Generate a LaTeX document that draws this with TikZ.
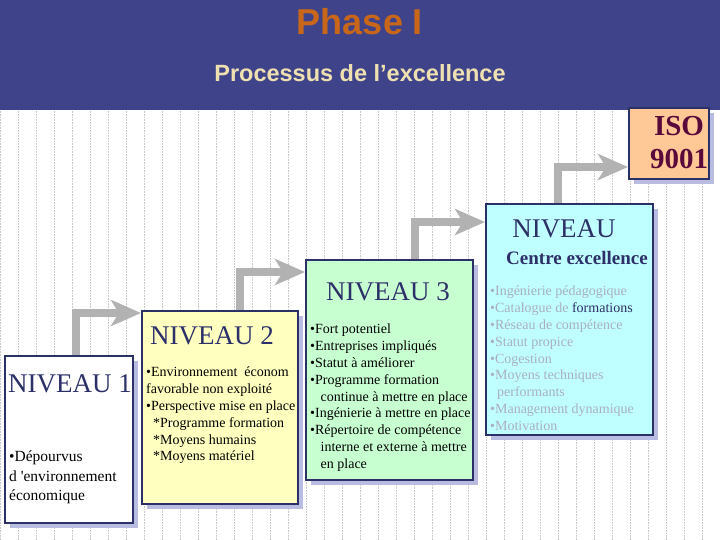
\documentclass[tikz,border=0pt]{standalone}
\usepackage{fontspec}
\setmainfont{Liberation Serif}
\newfontfamily\hsans{Liberation Sans}
\newfontfamily\rawserif{Liberation Serif}
\usetikzlibrary{arrows.meta}
\definecolor{hdr}{HTML}{3F448A}
\definecolor{ttl}{HTML}{C8661A}
\definecolor{sub}{HTML}{EEE0B0}
\definecolor{navy}{HTML}{2B3068}
\definecolor{shad}{HTML}{B8BCE0}
\definecolor{fy}{HTML}{FFFFC0}
\definecolor{fg}{HTML}{C8FFD0}
\definecolor{fc}{HTML}{C0FFFF}
\definecolor{fo}{HTML}{FFC896}
\definecolor{iso}{HTML}{5A0A3A}
\definecolor{pale}{HTML}{A8B0C0}
\tikzset{
 lvl/.style={draw=navy, line width=1.6pt, anchor=north west, inner sep=0pt},
 shd/.style={fill=shad, anchor=north west, inner sep=0pt},
 stair/.style={draw=black!30, line width=8pt, -{Stealth[length=30pt,width=26pt,inset=8pt]}},
 txt/.style={anchor=north west, align=left, text=black, font=\fontsize{14}{16.8}\selectfont, inner sep=0pt},
 big/.style={text=navy, font=\fontsize{27}{30}\selectfont, inner sep=0pt}
}
\begin{document}
\begin{tikzpicture}[x=1pt,y=-1pt]
\useasboundingbox (0,0) rectangle (720,540);
\fill[white] (0,0) rectangle (720,540);
\draw[black!22, densely dotted, line width=0.6pt, step=18] (0,110) grid (720,540);
\fill[hdr] (0,0) rectangle (720,110);
\node[text=ttl, font=\hsans\bfseries\fontsize{36}{38}\selectfont] (title) at (360,22) {Phase I};
\node[text=sub, font=\hsans\bfseries\fontsize{23.5}{26}\selectfont] (subt) at (360,73) {Processus de l’excellence};
% shadows
\node[shd, minimum width=128, minimum height=167] (s1) at (10,361) {};
\node[shd, minimum width=156, minimum height=193] (s2) at (147,316) {};
\node[shd, minimum width=167, minimum height=220] (s3) at (311,265) {};
\node[shd, minimum width=167, minimum height=231] (s4) at (491,209) {};
\node[shd, minimum width=80, minimum height=71] (s5) at (634,113) {};
% boxes
\node[lvl, fill=white, minimum width=128, minimum height=167] (n1) at (4,355) {};
\node[lvl, fill=fy, minimum width=156, minimum height=193] (n2) at (141,310) {};
\node[lvl, fill=fg, minimum width=167, minimum height=220] (n3) at (305,259) {};
\node[lvl, fill=fc, minimum width=167, minimum height=231] (n4) at (485,203) {};
\node[lvl, fill=fo, minimum width=80, minimum height=71] (n5) at (628,107) {};
% arrows
\coordinate (c1) at (76,313); \coordinate (c2) at (240,272);
\coordinate (c3) at (415,222); \coordinate (c4) at (558,167);
\draw[stair] (n1.north west -| c1) -- (c1) -- (c1 -| n2.west);
\draw[stair] (n2.north west -| c2) -- (c2) -- (c2 -| n3.west);
\draw[stair] (n3.north west -| c3) -- (c3) -- (c3 -| n4.west);
\draw[stair] (n4.north west -| c4) -- (c4) -- (c4 -| n5.west);
% texts
\node[big] (t1) at (70,384) {NIVEAU 1};
\node[txt, font=\fontsize{15.5}{19.5}\selectfont] (l1) at (9,451) {•Dépourvus\\d {\rawserif '}environnement\\économique};
\node[big] (t2) at (212,336) {NIVEAU 2};
\node[txt] (l2) at (146,367) {•Environnement~ économ\\favorable non exploité\\•Perspective mise en place\\\ \ *Programme formation\\\ \ *Moyens humains\\\ \ *Moyens matériel};
\node[big] (t3) at (388,292) {NIVEAU 3};
\node[txt] (l3) at (310,324) {•Fort potentiel\\•Entreprises impliqués\\•Statut à améliorer\\•Programme formation\\\ \ \ continue à mettre en place\\•Ingénierie à mettre en place\\•Répertoire de compétence\\\ \ \ interne et externe à mettre\\\ \ \ en place};
\node[big] (t4) at (564,229) {NIVEAU};
\node[text=navy, font=\bfseries\fontsize{19}{21}\selectfont, inner sep=0pt] (t4b) at (577,258) {Centre excellence};
\node[txt, text=pale, font=\fontsize{14}{16.8}\selectfont] (l4) at (490,286) {•Ingénierie pédagogique\\•Catalogue de \textcolor{navy}{formations}\\•Réseau de compétence\\•Statut propice\\•Cogestion\\•Moyens techniques\\\ \ performants\\•Management dynamique\\•Motivation};
\node[text=iso, font=\bfseries\fontsize{29}{33}\selectfont, align=center, inner sep=0pt] (t5) at (679,143) {ISO\\9001};
\end{tikzpicture}
\end{document}
